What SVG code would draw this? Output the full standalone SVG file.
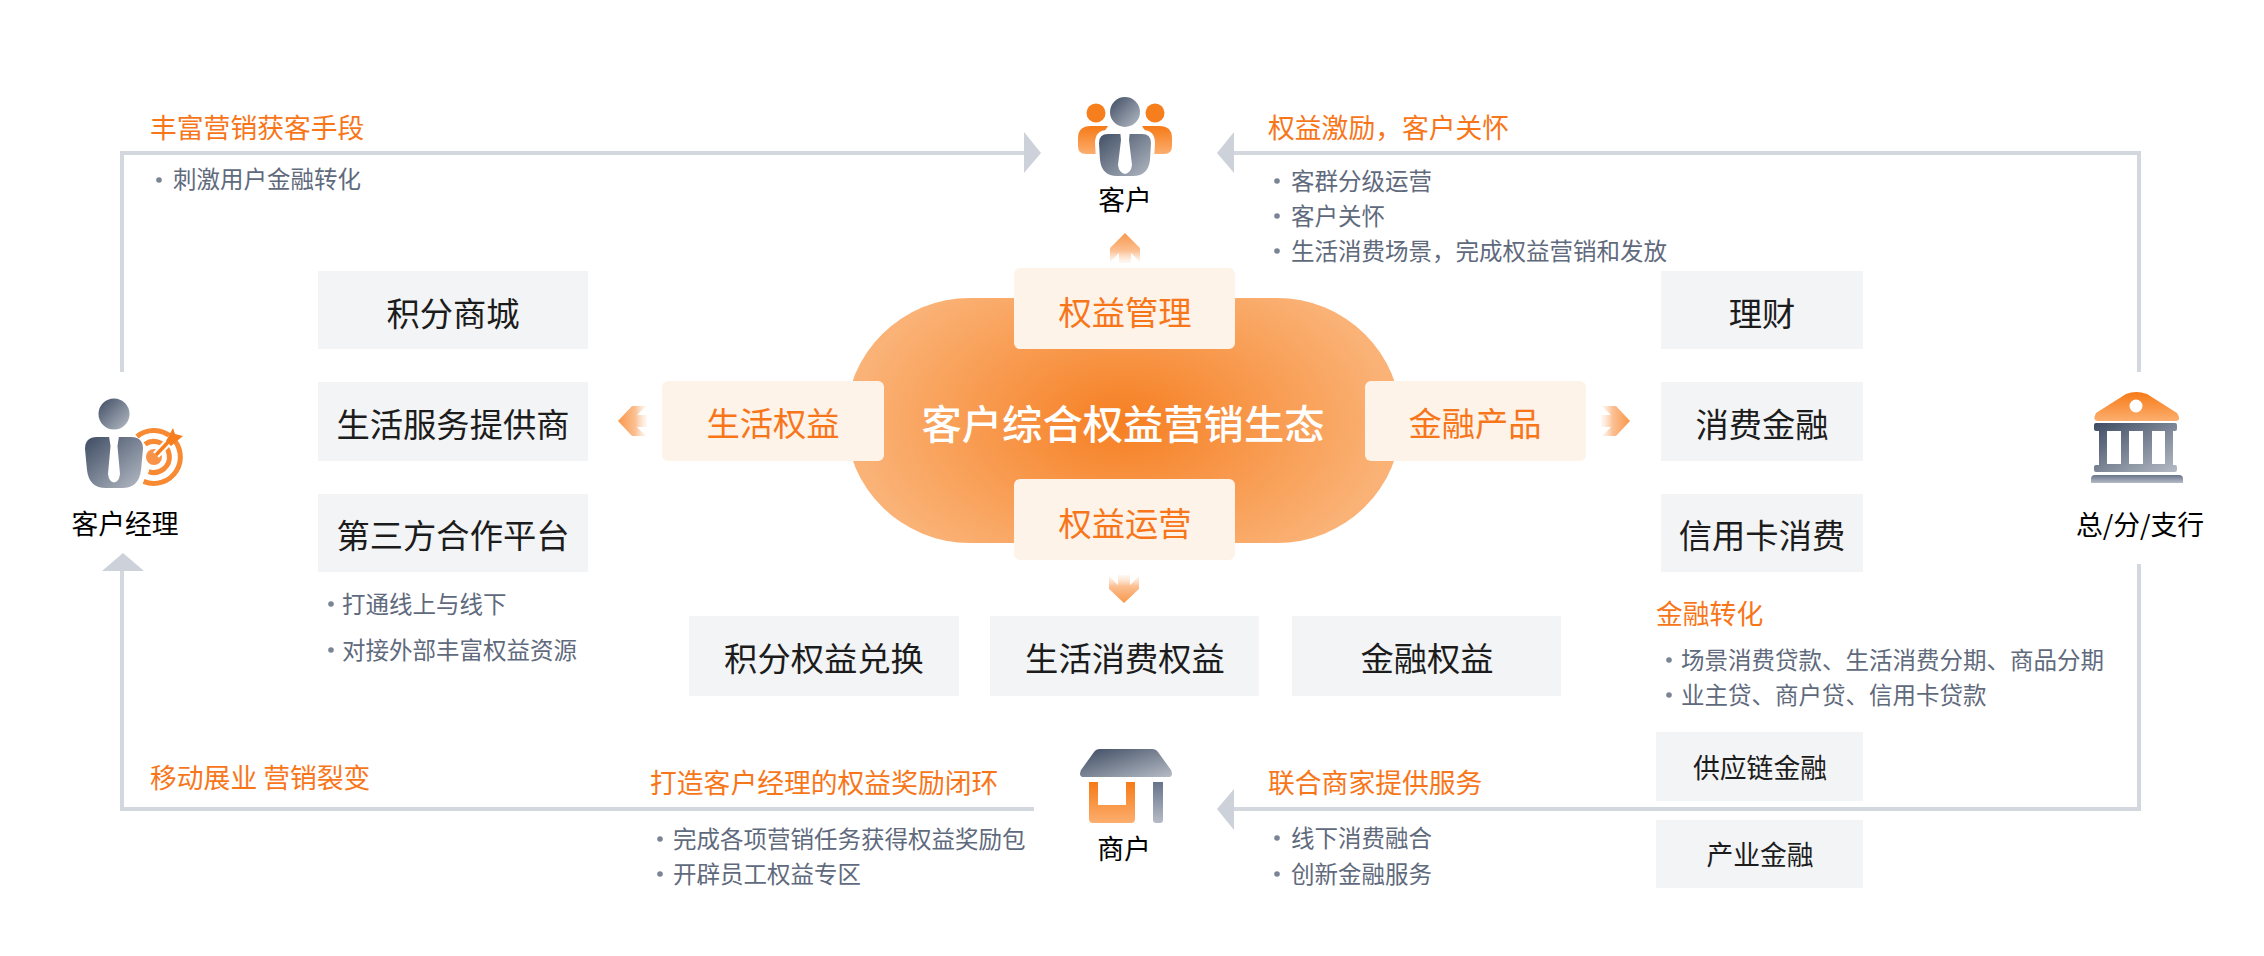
<svg xmlns="http://www.w3.org/2000/svg" width="2264" height="956" viewBox="0 0 2264 956">
<style>
text{font-family:"Noto Sans CJK SC","Noto Sans",sans-serif;dominant-baseline:central}
.head{font-size:26.8px;fill:#f8761a}
.li{font-size:23.5px;fill:#5f6a7d}
.dot{fill:#7a8495}
.card{fill:#f3f4f6}
.ct{font-size:33.3px;fill:#1c1c1c;text-anchor:middle}
.cs{font-size:26.8px;fill:#1c1c1c;text-anchor:middle}
.lbl{font-size:26.8px;fill:#000;text-anchor:middle}
.pill{fill:#fef3e9}
.pt{font-size:33.3px;fill:#f8761a;text-anchor:middle}
.conn{fill:none;stroke:#d3d7de;stroke-width:4}
.tip{fill:#cdd1d9}
.s0{stop-color:#f9974a}
.s1{stop-color:#fbc093}
.s2{stop-color:#fde3cd;stop-opacity:.25}
</style>
<defs>
<radialGradient id="blob" gradientUnits="userSpaceOnUse" cx="1123" cy="421" r="270" gradientTransform="translate(1123 421) scale(1 .62) translate(-1123 -421)">
<stop offset="0" stop-color="#f67f22"/><stop offset="1" stop-color="#fab276"/></radialGradient>
<linearGradient id="gray" x1="0" y1="0" x2="1" y2="1"><stop offset="0" stop-color="#3e4c62"/><stop offset="1" stop-color="#b6bcc6"/></linearGradient>
<linearGradient id="gv" x1="0" y1="0" x2="0" y2="1"><stop offset="0" stop-color="#67738a"/><stop offset="1" stop-color="#b6bcc6"/></linearGradient>
<linearGradient id="or" x1="0" y1="0" x2="0" y2="1"><stop offset="0" stop-color="#f67a17"/><stop offset="1" stop-color="#fcae6e"/></linearGradient>
<linearGradient id="up" x1="0" y1="0" x2="0" y2="1"><stop class="s0" offset="0"/><stop class="s1" offset=".6"/><stop class="s2" offset="1"/></linearGradient>
<linearGradient id="dn" x1="0" y1="1" x2="0" y2="0"><stop class="s0" offset="0"/><stop class="s1" offset=".6"/><stop class="s2" offset="1"/></linearGradient>
<linearGradient id="lf" x1="0" y1="0" x2="1" y2="0"><stop class="s0" offset="0"/><stop class="s1" offset=".6"/><stop class="s2" offset="1"/></linearGradient>
<linearGradient id="rt" x1="1" y1="0" x2="0" y2="0"><stop class="s0" offset="0"/><stop class="s1" offset=".6"/><stop class="s2" offset="1"/></linearGradient>
</defs>
<g id="connectors">
<path class="conn" d="M122 372V153H1024"/>
<polygon class="tip" points="1024,132 1041,153 1024,173"/>
<path class="conn" d="M2139 372V153H1234"/>
<polygon class="tip" points="1234,132 1217,153 1234,173"/>
<path class="conn" d="M2139 564V809H1234"/>
<polygon class="tip" points="1234,789 1217,809 1234,830"/>
<path class="conn" d="M1034 809H122V571"/>
<polygon class="tip" points="102,571 123,553 144,571"/>
<polygon fill="url(#up)" points="1125,233 1140,248 1140,262 1131,253 1131,263 1119,263 1119,253 1110,262 1110,248"/>
<polygon fill="url(#dn)" points="1124,603 1139,589 1139,576 1130,585 1130,575 1118,575 1118,585 1109,576 1109,589"/>
<polygon fill="url(#lf)" points="618,421 632,406 646,406 637,415 647,415 647,427 637,427 646,436 632,436"/>
<polygon fill="url(#rt)" points="1630,421 1616,406 1602,406 1611,415 1601,415 1601,427 1611,427 1602,436 1616,436"/>
</g>
<g id="hub">
<rect x="846" y="298" width="555" height="245" rx="124" ry="122.5" fill="url(#blob)"/>
<text x="1123" y="421" font-size="40.3" font-weight="500" fill="#fff" text-anchor="middle">客户综合权益营销生态</text>
</g>
<g id="pill-manage"><rect class="pill" x="1014" y="268" width="221" height="81" rx="6"/><text class="pt" x="1125" y="310">权益管理</text></g>
<g id="pill-operate"><rect class="pill" x="1014" y="479" width="221" height="81" rx="6"/><text class="pt" x="1125" y="521">权益运营</text></g>
<g id="pill-life"><rect class="pill" x="662" y="381" width="222" height="80" rx="6"/><text class="pt" x="773" y="421">生活权益</text></g>
<g id="pill-finance"><rect class="pill" x="1365" y="381" width="221" height="80" rx="6"/><text class="pt" x="1475" y="421">金融产品</text></g>

<g id="card-1"><rect class="card" x="318" y="271" width="270" height="78"/><text class="ct" x="453" y="311">积分商城</text></g>
<g id="card-2"><rect class="card" x="318" y="382" width="270" height="79"/><text class="ct" x="453" y="422">生活服务提供商</text></g>
<g id="card-3"><rect class="card" x="318" y="494" width="270" height="78"/><text class="ct" x="453" y="533">第三方合作平台</text></g>
<g id="card-4"><rect class="card" x="689" y="616" width="270" height="80"/><text class="ct" x="824" y="656">积分权益兑换</text></g>
<g id="card-5"><rect class="card" x="990" y="616" width="269" height="80"/><text class="ct" x="1125" y="656">生活消费权益</text></g>
<g id="card-6"><rect class="card" x="1292" y="616" width="269" height="80"/><text class="ct" x="1427" y="656">金融权益</text></g>
<g id="card-7"><rect class="card" x="1661" y="271" width="202" height="78"/><text class="ct" x="1762" y="311">理财</text></g>
<g id="card-8"><rect class="card" x="1661" y="382" width="202" height="79"/><text class="ct" x="1762" y="422">消费金融</text></g>
<g id="card-9"><rect class="card" x="1661" y="494" width="202" height="78"/><text class="ct" x="1762" y="533">信用卡消费</text></g>
<g id="card-10"><rect class="card" x="1656" y="732" width="207" height="69"/><text class="cs" x="1760" y="766">供应链金融</text></g>
<g id="card-11"><rect class="card" x="1656" y="820" width="207" height="68"/><text class="cs" x="1760" y="853">产业金融</text></g>

<g id="node-customer">
<circle cx="1096" cy="113" r="9.5" fill="#f67e1d"/><circle cx="1155" cy="113" r="9.5" fill="#f67e1d"/>
<path fill="url(#or)" d="M1108 126H1091Q1078 126 1078 138V146Q1078 154 1086 154H1104V132Z"/>
<path fill="url(#or)" d="M1142 126H1159Q1172 126 1172 138V146Q1172 154 1164 154H1146V132Z"/>
<circle cx="1125" cy="112" r="15" fill="url(#gray)"/>
<path fill="url(#gray)" stroke="#fff" stroke-width="4" d="M1108 132H1142Q1153 132 1153 143L1152 160Q1150 178 1133 178H1117Q1100 178 1098 160L1097 143Q1097 132 1108 132Z"/>
<path fill="#fff" d="M1120 130H1130L1129 140L1132 165Q1131 173 1125 174Q1119 173 1118 165L1121 140Z"/>
<text class="lbl" x="1125" y="198">客户</text>
</g>
<g id="node-manager">
<path fill="none" stroke="#f78a32" stroke-width="5" d="M137 436.5A26.5 26.5 0 1 1 143.6 481.4"/>
<path fill="none" stroke="#f78a32" stroke-width="5" d="M145 444.3A15.5 15.5 0 1 1 148.7 471.6"/>
<circle cx="154" cy="457" r="8" fill="#f9934a"/>
<path stroke="#fff" stroke-width="8" d="M156 455L172 438"/>
<path stroke="#f67e1d" stroke-width="3.5" d="M156 455L172 438"/>
<polygon fill="#f67e1d" points="166,441 173,428 175,434 183,436 171,446"/>
<circle cx="114" cy="414" r="15.5" fill="url(#gray)"/>
<path fill="url(#gray)" d="M97 437H131Q143 437 143 449L141 470Q139 488 122 488H106Q89 488 87 470L85 449Q85 437 97 437Z"/>
<path fill="#fff" d="M109 436H119L117.5 446L120 474Q119 482 114 482.5Q109 482 108 474L110.5 446Z"/>
<text class="lbl" x="125" y="522">客户经理</text>
</g>
<g id="node-bank">
<path fill="url(#or)" d="M2126 394Q2136 390 2147 394L2177 413Q2182 421 2175 421H2098Q2092 421 2096 413Z"/>
<circle cx="2136" cy="406" r="6.5" fill="#fff"/>
<path fill="url(#gray)" fill-rule="evenodd" d="M2096 423H2175Q2177 423 2177 425V429Q2177 431 2175 431H2173V465H2175Q2177 465 2177 467V470Q2177 472 2175 472H2096Q2094 472 2094 470V467Q2094 465 2096 465H2099V431H2096Q2094 431 2094 429V425Q2094 423 2096 423ZM2107 431V464H2121V431ZM2129 431V464H2143V431ZM2152 431V464H2165V431Z"/>
<path fill="url(#gv)" d="M2095 475H2179Q2183 475 2183 479V483H2091V479Q2091 475 2095 475Z"/>
<text class="lbl" x="2140" y="523">总/分/支行</text>
</g>
<g id="node-shop">
<path fill="url(#gray)" d="M1100 749H1152Q1156 749 1158 752L1171 770Q1174 777 1168 777H1084Q1078 777 1081 770L1094 752Q1096 749 1100 749Z"/>
<path fill="url(#or)" d="M1089 782H1098V805H1126V782H1135V819Q1135 823 1131 823H1093Q1089 823 1089 819Z"/>
<path fill="url(#gv)" d="M1153 782H1163V820Q1163 823 1160 823H1156Q1153 823 1153 820Z"/>
<text class="lbl" x="1124" y="847">商户</text>
</g>

<g id="labels">
<text class="head" x="150" y="126">丰富营销获客手段</text>
<circle class="dot" cx="159" cy="180" r="2.8"/><text class="li" x="173" y="178">刺激用户金融转化</text>
<text class="head" x="1268" y="126">权益激励，客户关怀</text>
<circle class="dot" cx="1277" cy="181" r="2.8"/><text class="li" x="1291" y="180">客群分级运营</text>
<circle class="dot" cx="1277" cy="216" r="2.8"/><text class="li" x="1291" y="214.5">客户关怀</text>
<circle class="dot" cx="1277" cy="251" r="2.8"/><text class="li" x="1291" y="250">生活消费场景，完成权益营销和发放</text>
<circle class="dot" cx="331" cy="604" r="2.8"/><text class="li" x="342" y="602.5">打通线上与线下</text>
<circle class="dot" cx="331" cy="650" r="2.8"/><text class="li" x="342" y="648.5">对接外部丰富权益资源</text>
<text class="head" x="1656" y="612">金融转化</text>
<circle class="dot" cx="1669" cy="660" r="2.8"/><text class="li" x="1681" y="659">场景消费贷款、生活消费分期、商品分期</text>
<circle class="dot" cx="1669" cy="695" r="2.8"/><text class="li" x="1681" y="694">业主贷、商户贷、信用卡贷款</text>
<text class="head" x="150" y="776">移动展业 营销裂变</text>
<text class="head" x="650" y="781">打造客户经理的权益奖励闭环</text>
<circle class="dot" cx="660" cy="839" r="2.8"/><text class="li" x="673" y="838">完成各项营销任务获得权益奖励包</text>
<circle class="dot" cx="660" cy="874" r="2.8"/><text class="li" x="673" y="873">开辟员工权益专区</text>
<text class="head" x="1268" y="781">联合商家提供服务</text>
<circle class="dot" cx="1277" cy="838" r="2.8"/><text class="li" x="1291" y="837">线下消费融合</text>
<circle class="dot" cx="1277" cy="874" r="2.8"/><text class="li" x="1291" y="873">创新金融服务</text>
</g>
</svg>
